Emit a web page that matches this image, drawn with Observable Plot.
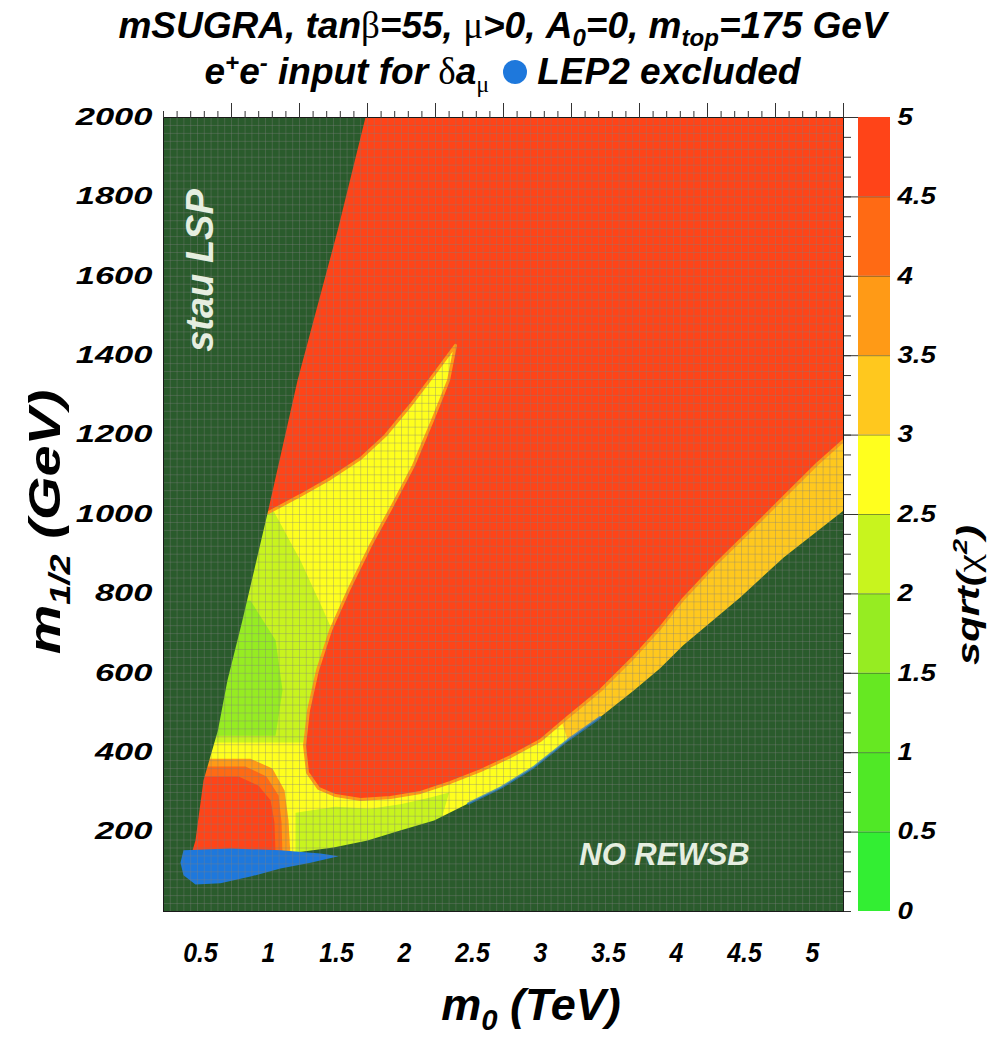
<!DOCTYPE html>
<html>
<head>
<meta charset="utf-8">
<script src="https://cdn.jsdelivr.net/npm/d3@7"></script>
<script src="https://cdn.jsdelivr.net/npm/@observablehq/plot@0.6"></script>
<style>
  body { margin: 0; background: #fff; }
  #chart { position: relative; width: 1005px; height: 1046px; overflow: hidden;
           font-family: "Liberation Sans", Arial, sans-serif; font-weight: bold; font-style: italic; color: #000; }
  .t { position: absolute; white-space: nowrap; line-height: 1; }
  .g { font-family: "Liberation Serif", "DejaVu Serif", serif; font-weight: normal; font-style: normal; }
  sub, sup { font-size: 65%; line-height: 0; }
  #title1, #title2 { left: 0; width: 1005px; text-align: center; font-size: 37px; }
  #title1 { top: 7px; }
  #title2 { top: 53px; }
  .dot { display: inline-block; width: 24px; height: 24px; border-radius: 50%; background: #1e78dc; margin: 0 10px 0 14px; vertical-align: 0px; }
  #main { position: absolute; left: 0; top: 100px; }
  #bar { position: absolute; left: 850px; top: 100px; }
  #xlabel { left: 0; width: 1062px; text-align: center; top: 982px; font-size: 45px; }
  #ylabel { font-size: 44px; left: 45px; top: 522px; transform: translate(-50%, -50%) rotate(-90deg) scaleX(1.27); }
  #zlabel { font-size: 32px; left: 968px; top: 595px; transform: translate(-50%, -50%) rotate(-90deg) scaleX(1.3); }
</style>
</head>
<body>
<div id="chart">
  <div class="t" id="title1">mSUGRA, tan<span class="g">β</span>=55, <span class="g">μ</span>&gt;0, A<sub>0</sub>=0, m<sub>top</sub>=175 GeV</div>
  <div class="t" id="title2">e<sup>+</sup>e<sup>-</sup> input for <span class="g">δ</span>a<sub class="g">μ</sub><span class="dot"></span>LEP2 excluded</div>
  <div id="main"></div>
  <div id="bar"></div>
  <div class="t" id="xlabel">m<sub>0</sub> (TeV)</div>
  <div class="t" id="ylabel">m<sub>1/2</sub> (GeV)</div>
  <div class="t" id="zlabel">sqrt(<span class="g">χ</span><sup>2</sup>)</div>
</div>
<script>
// ---- colour scale: sqrt(chi^2) in steps of 0.5 ----
const levelEdges  = [0, 0.5, 1, 1.5, 2, 2.5, 3, 3.5, 4, 4.5, 5];
const levelColors = ["#33ee33", "#50e826", "#66e822", "#96ec22", "#c8f41e",
                     "#ffff1e", "#ffc81e", "#ff9a16", "#ff6a14", "#ff4418"];

// ---- axis ticks ----
const m0Ticks  = [0.5, 1, 1.5, 2, 2.5, 3, 3.5, 4, 4.5, 5];          // TeV
const m12Ticks = [200, 400, 600, 800, 1000, 1200, 1400, 1600, 1800, 2000]; // GeV

// ---- region boundaries, [m0 (TeV), m1/2 (GeV)] ----
// stau LSP boundary, from the top edge downwards
const stauEdge = [[1.485, 2000], [1.28, 1715], [0.985, 1337], [0.765, 1003], [0.58, 733],
                  [0.47, 582], [0.40, 456], [0.294, 330], [0.235, 179], [0.21, 150]];
// upper-left edge of the narrow chi^2 valley (tongue), stau boundary -> tip
const tongueTop = [[0.772, 1005], [1.007, 1048], [1.228, 1091], [1.449, 1141], [1.632, 1199],
                   [1.816, 1275], [2.0, 1358], [2.147, 1426]];
// right edge of the tongue, then the rim of the high-chi^2 lobe out to m0 = 5 TeV
const lobeEdge = [[2.147, 1426], [2.096, 1338], [1.978, 1237], [1.838, 1123], [1.684, 1023],
                  [1.522, 922], [1.360, 809], [1.228, 708], [1.132, 607], [1.066, 506],
                  [1.037, 418], [1.059, 350], [1.140, 310], [1.265, 292], [1.449, 282],
                  [1.669, 287], [1.890, 300], [2.110, 325], [2.331, 355], [2.551, 390],
                  [2.772, 431], [2.971, 489], [3.213, 557], [3.456, 640], [3.654, 715],
                  [3.824, 788], [4.074, 879], [4.316, 960], [4.559, 1043], [4.809, 1128], [5.0, 1186]];
// no radiative EWSB boundary, left to right
const rewsbEdge = [[1.0, 150], [1.25, 161], [1.50, 179], [1.74, 204], [1.99, 229], [2.24, 272],
                   [2.48, 312], [2.72, 363], [2.97, 431], [3.21, 489], [3.46, 557], [3.65, 612],
                   [3.82, 670], [4.24, 791], [4.56, 892], [5.0, 1010]];
// LEP2 excluded patch
const lep2 = [[0.147, 154], [0.493, 159], [0.860, 154], [1.154, 146], [1.287, 139], [1.081, 123],
              [0.860, 108], [0.640, 88], [0.419, 71], [0.235, 68], [0.147, 91], [0.125, 123]];
// inner patches: lower-valued arm and band, rings of the low-m1/2 bubble
const armLow   = [[0.088, 1086], [0.787, 1023], [1.007, 884], [1.176, 758], [1.338, 632],
                  [1.301, 426], [1.007, 426], [0.088, 426]];
const armCore  = [[0.15, 808], [0.640, 783], [0.824, 683], [0.875, 557], [0.824, 443], [0.15, 443]];
const bandLow  = [[0.971, 249], [1.265, 264], [1.522, 259], [1.743, 270], [1.963, 287], [2.10, 300],
                  [1.95, 120], [0.971, 120]];
const bandHigh = [[2.85, 560], [5.0, 1300], [5.0, 800], [3.05, 350]];
const bubble375 = [[0.15, 385], [0.640, 385], [0.801, 360], [0.890, 305], [0.919, 229], [0.934, 140], [0.15, 140]];
const bubble425 = [[0.15, 365], [0.603, 365], [0.757, 340], [0.846, 292], [0.868, 224], [0.875, 140], [0.15, 140]];
const bubble475 = [[0.15, 340], [0.551, 340], [0.699, 317], [0.787, 280], [0.816, 224], [0.824, 140], [0.15, 140]];

// filled polygons
const highLobe = tongueTop.concat(lobeEdge.slice(1), [[5, 2000], [0, 2000], [0, 1005]]);
const stauLSP  = [[0, 2000]].concat(stauEdge, [[0, 150]]);
const noREWSB  = [[0, 0], [5, 0]].concat(rewsbEdge.slice().reverse(), [[0.6, 130], [0, 160]]);
const fullArea = [[0, 0], [5, 0], [5, 2000], [0, 2000]];

const colorScale = { type: "threshold", domain: levelEdges.slice(1, -1), range: levelColors };
const EXCLUDED = "#2a5b2c";
const BLUE = "#1e78dc";

const xy = { x: d => d[0], y: d => d[1] };
const region = (pts, level) =>
  Plot.line(pts, { ...xy, curve: "linear-closed", fill: () => level, stroke: "none", clip: true });
const solid = (pts, color) =>
  Plot.line(pts, { ...xy, curve: "linear-closed", fill: color, stroke: "none", clip: true });

const font = { fontFamily: "'Liberation Sans', Arial, sans-serif", fontWeight: "bold", fontStyle: "italic" };

const main = Plot.plot({
  width: 870, height: 946,
  marginLeft: 163, marginRight: 27, marginTop: 17, marginBottom: 135,
  x: { domain: [0, 5] },
  y: { domain: [0, 2000] },
  color: colorScale,
  style: { ...font, fontSize: "24px", background: "transparent", overflow: "visible" },
  marks: [
    region(fullArea, 2.75),
    region(armLow, 2.25),
    region(armCore, 1.75),
    region(bandLow, 2.25),
    region(bandHigh, 3.25),
    region(highLobe, 4.75),
    Plot.line(tongueTop.concat(lobeEdge.slice(1)), { ...xy, stroke: () => 3.75, strokeWidth: 3, clip: true }),
    region(bubble375, 3.75),
    region(bubble425, 4.25),
    region(bubble475, 4.75),
    solid(stauLSP, EXCLUDED),
    solid(noREWSB, EXCLUDED),
    Plot.line(rewsbEdge.filter(p => p[0] > 2.2 && p[0] < 3.3), { ...xy, stroke: BLUE, strokeWidth: 2.5, strokeOpacity: 0.7, clip: true }),
    solid(lep2, BLUE),
    // parameter-scan grid texture
    Plot.gridX({ ticks: 100, stroke: "#808080", strokeOpacity: 0.35, strokeWidth: 1 }),
    Plot.gridY({ ticks: 120, stroke: "#808080", strokeOpacity: 0.35, strokeWidth: 1 }),
    Plot.frame({ stroke: "#1a1a1a", strokeWidth: 1 }),
    // ticks: outward on top and right
    Plot.axisX({ anchor: "top", ticks: 50, tickSize: 7, tickFormat: () => "", label: null, stroke: "#333" }),
    Plot.axisX({ anchor: "top", ticks: m0Ticks, tickSize: 15, tickFormat: () => "", label: null, stroke: "#333" }),
    Plot.axisY({ anchor: "right", ticks: 40, tickSize: 7, tickFormat: () => "", label: null, stroke: "#333" }),
    Plot.axisY({ anchor: "right", ticks: m12Ticks, tickSize: 14, tickFormat: () => "", label: null, stroke: "#333" }),
    Plot.axisX({ anchor: "bottom", ticks: m0Ticks, tickSize: 0, tickPadding: 31, dx: -31, label: null, fontSize: 27, tickFormat: d => String(d) }),
    Plot.axisY({ anchor: "left", ticks: m12Ticks, tickSize: 0, tickPadding: 11, label: null, fontSize: 23, tickFormat: d => String(d) }),
    Plot.text(["stau LSP"], { frameAnchor: "top-left", dx: 37, dy: 153, rotate: -90, textAnchor: "middle", lineAnchor: "middle", fill: "#e6eee0", fontSize: 38 }),
    Plot.text(["NO REWSB"], { frameAnchor: "bottom-right", dx: -179, dy: -56, textAnchor: "middle", lineAnchor: "middle", fill: "#e6eee0", fontSize: 31 })
  ]
});
document.getElementById("main").append(main);

// colour bar
const bands = levelEdges.slice(0, -1).map((lo, i) => ({ lo, hi: levelEdges[i + 1], mid: (lo + levelEdges[i + 1]) / 2 }));
const bar = Plot.plot({
  width: 155, height: 946,
  marginLeft: 8, marginRight: 115, marginTop: 17, marginBottom: 135,
  y: { domain: [0, 5] },
  color: colorScale,
  style: { ...font, fontSize: "24px", background: "transparent", overflow: "visible" },
  marks: [
    Plot.rect(bands, { y1: "lo", y2: "hi", fill: "mid" }),
    Plot.ruleY(levelEdges.slice(1, -1), { stroke: "#333", strokeOpacity: 0.5 }),
    Plot.axisY({ anchor: "right", ticks: levelEdges, tickSize: 0, tickPadding: 7, label: null, fontSize: 23, tickFormat: d => String(d) })
  ]
});
document.getElementById("bar").append(bar);

// widen or narrow tick-label glyphs to the lettering of the figure
function stretchLabels(svg, label, factor) {
  svg.querySelectorAll(`g[aria-label="${label}"] text`).forEach(t => {
    const w = t.getComputedTextLength();
    if (w > 0) {
      t.setAttribute("textLength", (w * factor).toFixed(1));
      t.setAttribute("lengthAdjust", "spacingAndGlyphs");
    }
  });
}
stretchLabels(main, "y-axis tick label", 1.5);
stretchLabels(main, "x-axis tick label", 0.92);
stretchLabels(bar, "y-axis tick label", 1.2);
</script>
</body>
</html>
